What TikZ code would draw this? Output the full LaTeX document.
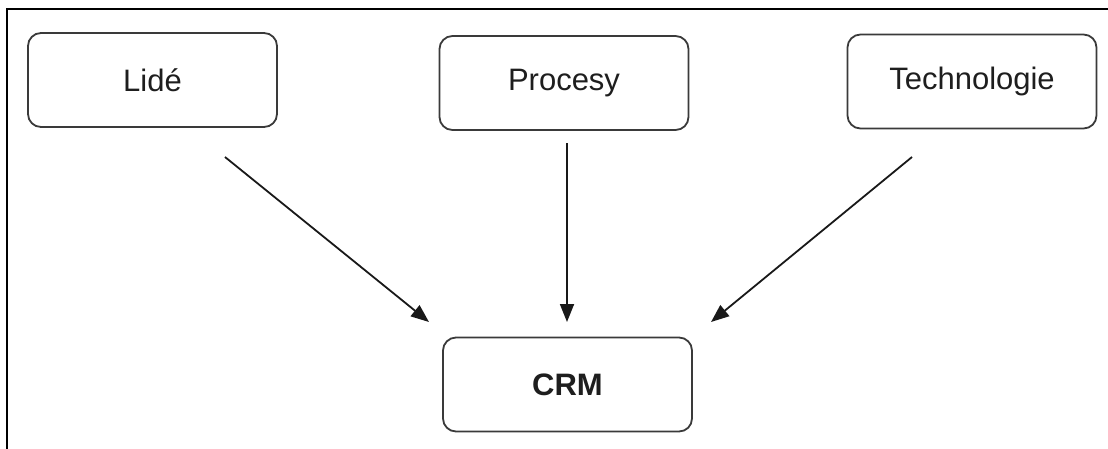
\documentclass[tikz,border=0pt]{standalone}
\usepackage{fontspec}
\setmainfont{Liberation Sans}
\usetikzlibrary{arrows.meta}
\definecolor{boxline}{HTML}{3A3A3A}
\definecolor{labeltext}{HTML}{1E1E1E}
\tikzset{
  block/.style={draw=boxline, line width=1.8pt, rounded corners=13pt,
    minimum width=249pt, minimum height=94pt, inner sep=0pt,
    font=\fontsize{31}{36}\selectfont, text=labeltext},
  link/.style={line width=1.8pt, draw=black!90,
    -{Triangle[length=18pt,width=14pt]}},
  frame/.style={line width=2.6pt, draw=black}
}
\begin{document}
\begin{tikzpicture}[x=1pt, y=-1pt]
  \useasboundingbox (0,0) rectangle (1108,448);
  \begin{scope}
    \clip (0,0) rectangle (1108,448);
    % open frame: left and top edges only
    \draw[frame] (7,460) -- (7,9) -- (1120,9);
  \end{scope}

  \node[block] (lide) at (152.5,80) {Lidé};
  \node[block] (procesy) at (564,83) {Procesy};
  \node[block] (tech) at (972,81.5) {Technologie};
  \node[block, font=\fontsize{31}{36}\selectfont\bfseries] (crm) at (567.5,384.5) {CRM};

  % free ends of the connectors
  \coordinate (lideS) at (225,157);
  \coordinate (lideT) at (429,322);
  \coordinate (procS) at (567,143);
  \coordinate (procT) at (567,322);
  \coordinate (techS) at (912,157);
  \coordinate (techT) at (711,322);

  \draw[link] (lideS) -- (lideT);
  \draw[link] (procS) -- (procT);
  \draw[link] (techS) -- (techT);
\end{tikzpicture}
\end{document}
